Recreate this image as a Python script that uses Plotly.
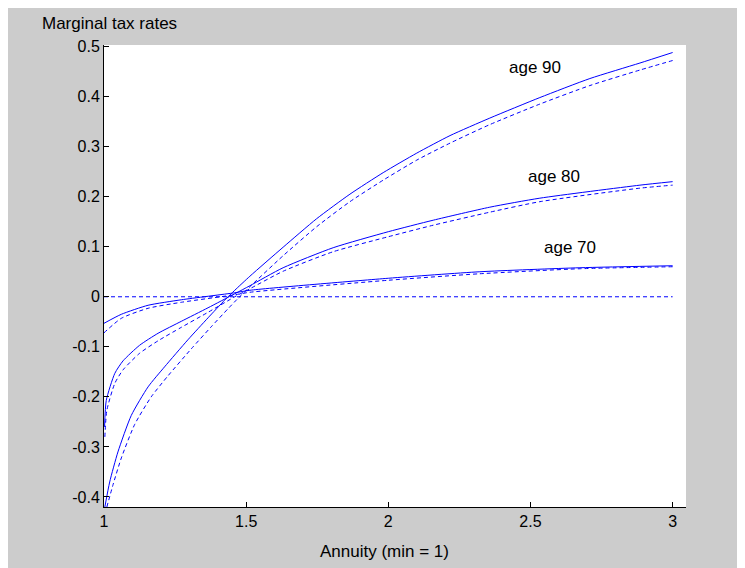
import plotly.graph_objects as go

# ---- data ----
x90_solid = [1.003, 1.02, 1.049, 1.096, 1.155, 1.213, 1.295, 1.366, 1.424, 1.46, 1.513, 1.63, 1.748, 1.865, 1.982, 2.1, 2.217, 2.357, 2.533, 2.709, 2.885, 3.0]
y90_solid = [-0.42, -0.37, -0.31, -0.237, -0.18, -0.14, -0.086, -0.042, -0.007, 0.013, 0.041, 0.099, 0.156, 0.205, 0.248, 0.287, 0.322, 0.357, 0.398, 0.436, 0.467, 0.488]

x90_dash = [1.01, 1.032, 1.061, 1.108, 1.166, 1.225, 1.307, 1.377, 1.436, 1.47, 1.513, 1.63, 1.748, 1.865, 1.982, 2.1, 2.217, 2.357, 2.533, 2.709, 2.885, 3.0]
y90_dash = [-0.42, -0.375, -0.322, -0.255, -0.20, -0.158, -0.104, -0.06, -0.024, -0.004, 0.02, 0.082, 0.14, 0.19, 0.233, 0.273, 0.307, 0.344, 0.385, 0.422, 0.453, 0.472]

x80_solid = [1.002, 1.008, 1.038, 1.067, 1.125, 1.19, 1.272, 1.366, 1.46, 1.513, 1.63, 1.806, 2.0, 2.158, 2.357, 2.533, 2.885, 3.0]
y80_solid = [-0.26, -0.207, -0.153, -0.128, -0.097, -0.073, -0.049, -0.022, 0.006, 0.022, 0.058, 0.098, 0.13, 0.153, 0.179, 0.197, 0.223, 0.23]

x80_dash = [1.003, 1.01, 1.038, 1.067, 1.125, 1.19, 1.272, 1.366, 1.46, 1.513, 1.63, 1.806, 2.0, 2.158, 2.357, 2.533, 2.885, 3.0]
y80_dash = [-0.28, -0.227, -0.173, -0.146, -0.113, -0.088, -0.061, -0.031, 0.0, 0.016, 0.051, 0.09, 0.12, 0.143, 0.169, 0.19, 0.217, 0.223]

x70_solid = [1.0, 1.061, 1.155, 1.272, 1.46, 1.513, 2.0, 2.322, 2.674, 3.0]
y70_solid = [-0.053, -0.035, -0.017, -0.006, 0.008, 0.013, 0.037, 0.05, 0.058, 0.062]

x70_dash = [1.0, 1.061, 1.155, 1.272, 1.46, 1.513, 2.0, 2.322, 2.674, 3.0]
y70_dash = [-0.072, -0.043, -0.023, -0.011, 0.004, 0.009, 0.033, 0.046, 0.056, 0.06]

x_zero = [1.0, 3.0]
y_zero = [0.0, 0.0]

x_ticks = [1, 1.5, 2, 2.5, 3]
x_ticklabels = ["1", "1.5", "2", "2.5", "3"]
y_ticks = [-0.4, -0.3, -0.2, -0.1, 0, 0.1, 0.2, 0.3, 0.4, 0.5]
y_ticklabels = ["-0.4", "-0.3", "-0.2", "-0.1", "0", "0.1", "0.2", "0.3", "0.4", "0.5"]

labels = ["age 90", "age 80", "age 70"]
label_x = [2.515, 2.583, 2.639]
label_y = [0.459, 0.241, 0.098]

BLUE = "#0000ff"
FONT = "Liberation Sans, Arial, Helvetica, sans-serif"

fig = go.Figure()
series = [
    (x90_solid, y90_solid, "solid"), (x90_dash, y90_dash, "4px,3px"),
    (x80_solid, y80_solid, "solid"), (x80_dash, y80_dash, "4px,3px"),
    (x70_solid, y70_solid, "solid"), (x70_dash, y70_dash, "4px,3px"),
    (x_zero, y_zero, "4px,3px"),
]
for xs, ys, dash in series:
    fig.add_trace(go.Scatter(
        x=xs, y=ys, mode="lines",
        line=dict(color=BLUE, width=1, dash=dash, shape="spline", smoothing=0.6),
        showlegend=False, hoverinfo="skip", cliponaxis=True,
    ))

for t, lx, ly in zip(labels, label_x, label_y):
    fig.add_annotation(x=lx, y=ly, xref="x", yref="y", text=t, showarrow=False,
                       font=dict(family=FONT, size=17, color="black"),
                       xanchor="center", yanchor="middle")

fig.add_annotation(x=-0.11, y=1.047, xref="paper", yref="paper", text="Marginal tax rates",
                   showarrow=False, font=dict(family=FONT, size=17, color="black"),
                   xanchor="left", yanchor="middle")
fig.add_annotation(x=0.4828, y=-0.0974, xref="paper", yref="paper", text="Annuity (min = 1)",
                   showarrow=False, font=dict(family=FONT, size=17, color="black"),
                   xanchor="center", yanchor="middle")

axis_common = dict(showline=True, linecolor="black", linewidth=1, mirror=False,
                   ticks="inside", ticklen=5, tickcolor="black", tickwidth=1,
                   showgrid=False, zeroline=False,
                   tickfont=dict(family=FONT, size=16, color="black"))

# page body adds an 8px offset; figure fills the rest of the 745x568 window
fig.update_layout(
    width=737, height=560,
    margin=dict(l=96, r=59, t=37, b=61),
    paper_bgcolor="#cccccc", plot_bgcolor="white",
    xaxis=dict(range=[1, 3.047], tickvals=x_ticks, ticktext=x_ticklabels, **axis_common),
    yaxis=dict(range=[-0.42, 0.503], tickvals=y_ticks, ticktext=y_ticklabels, **axis_common),
)

fig.write_html("out.html")
